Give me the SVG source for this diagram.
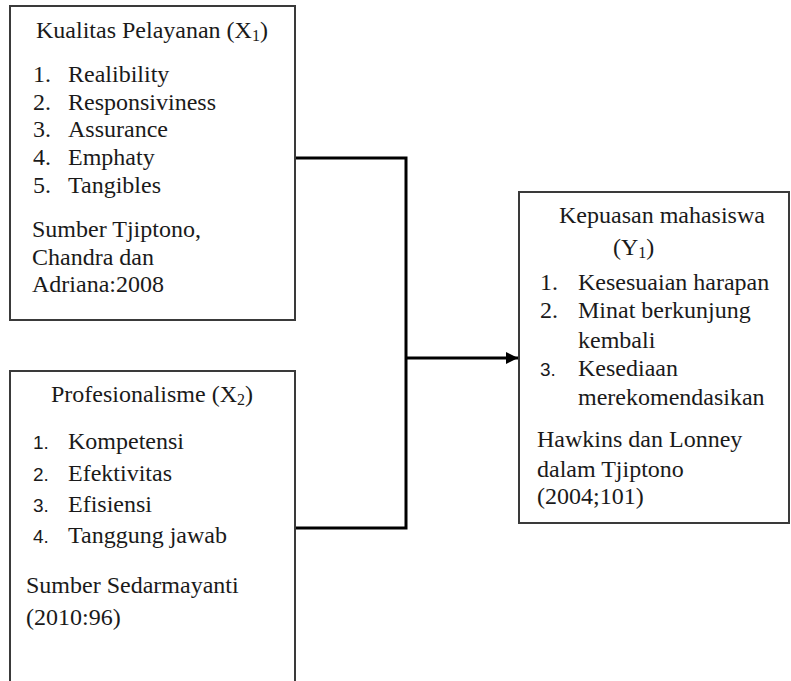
<svg xmlns="http://www.w3.org/2000/svg" width="791" height="681" viewBox="0 0 791 681">
<style>
.box{fill:#fff;stroke:#3a3a3a;stroke-width:2}
.t{font-family:'Liberation Serif','DejaVu Serif','Times New Roman',Times,serif;font-size:24px;fill:#1a1a1a}
.n{font-family:'Liberation Sans',Arial,sans-serif;font-size:19px;fill:#1a1a1a}
.sub{font-size:16px}
.c{fill:none;stroke:#000;stroke-width:3}
</style>
<defs>
<marker id="ah" viewBox="0 0 10 10" refX="10" refY="5" markerWidth="4" markerHeight="4" orient="auto" markerUnits="strokeWidth">
<path d="M0,0 L10,5 L0,10 z" fill="#000"/>
</marker>
</defs>
<rect width="791" height="681" fill="#fff"/>
<g id="connectors">
<polyline class="c" points="295,158 406,158 406,528 295,528"/>
<line class="c" x1="406" y1="358" x2="518" y2="358" marker-end="url(#ah)"/>
</g>
<g id="x1">
<rect class="box" x="10" y="6" width="285" height="314"/>
<text class="t" x="36" y="38">Kualitas Pelayanan (X<tspan class="sub" dy="3">1</tspan><tspan dy="-3">)</tspan></text>
<text class="t" x="33" y="82">1.</text><text class="t" x="68" y="82">Realibility</text>
<text class="t" x="33" y="110">2.</text><text class="t" x="68" y="110">Responsiviness</text>
<text class="t" x="33" y="137">3.</text><text class="t" x="68" y="137">Assurance</text>
<text class="t" x="33" y="165">4.</text><text class="t" x="68" y="165">Emphaty</text>
<text class="t" x="33" y="193">5.</text><text class="t" x="68" y="193">Tangibles</text>
<text class="t" x="32" y="237">Sumber Tjiptono,</text>
<text class="t" x="32" y="265">Chandra dan</text>
<text class="t" x="32" y="292">Adriana:2008</text>
</g>
<g id="x2">
<rect class="box" x="10" y="371" width="285" height="320"/>
<text class="t" x="51" y="402">Profesionalisme (X<tspan class="sub" dy="3">2</tspan><tspan dy="-3">)</tspan></text>
<text class="n" x="33" y="449">1.</text><text class="t" x="68" y="449">Kompetensi</text>
<text class="n" x="33" y="481">2.</text><text class="t" x="68" y="481">Efektivitas</text>
<text class="n" x="33" y="512">3.</text><text class="t" x="68" y="512">Efisiensi</text>
<text class="n" x="33" y="543">4.</text><text class="t" x="68" y="543">Tanggung jawab</text>
<text class="t" x="26" y="593">Sumber Sedarmayanti</text>
<text class="t" x="26" y="625">(2010:96)</text>
</g>
<g id="y1">
<rect class="box" x="519" y="192" width="270" height="331"/>
<text class="t" x="559" y="223">Kepuasan mahasiswa</text>
<text class="t" x="613" y="255">(Y<tspan class="sub" dy="3">1</tspan><tspan dy="-3">)</tspan></text>
<text class="t" x="540" y="290">1.</text><text class="t" x="578" y="290">Kesesuaian harapan</text>
<text class="t" x="540" y="318">2.</text><text class="t" x="578" y="318">Minat berkunjung</text>
<text class="t" x="578" y="348">kembali</text>
<text class="n" x="540" y="376">3.</text><text class="t" x="578" y="376">Kesediaan</text>
<text class="t" x="578" y="405">merekomendasikan</text>
<text class="t" x="537" y="447">Hawkins dan Lonney</text>
<text class="t" x="537" y="477">dalam Tjiptono</text>
<text class="t" x="537" y="504">(2004;101)</text>
</g>
</svg>
